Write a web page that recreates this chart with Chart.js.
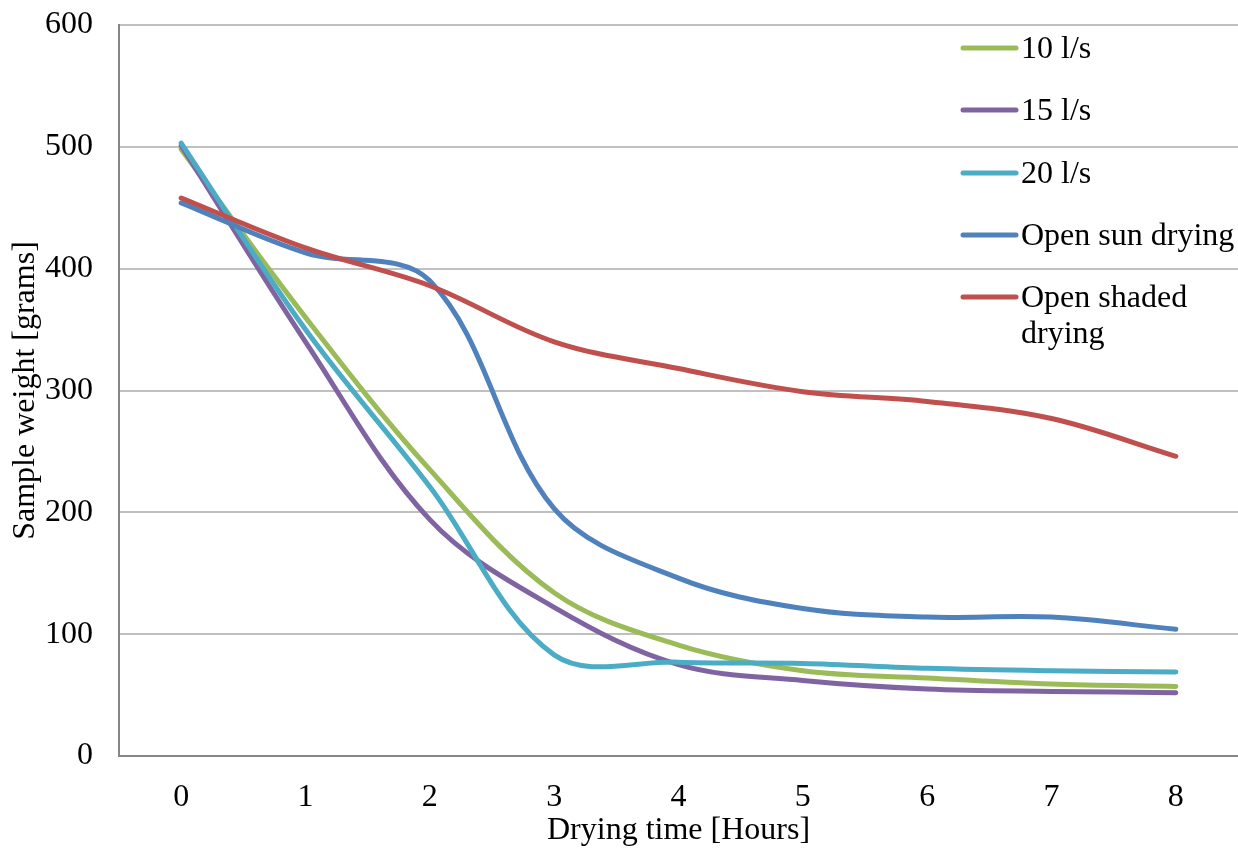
<!DOCTYPE html>
<html>
<head>
<meta charset="utf-8">
<script src="https://cdn.jsdelivr.net/npm/chart.js@4.4.1/dist/chart.umd.min.js"></script>
<style>
  html, body { margin: 0; padding: 0; background: #fff; }
  #wrap { width: 1238px; height: 851px; position: relative; }
</style>
</head>
<body>
<div id="wrap"><canvas id="dryChart"></canvas></div>
<script>
// values
const hours = ['0', '1', '2', '3', '4', '5', '6', '7', '8'];
const flow10 = [498, 360, 235, 134, 91, 70, 64, 59, 57];
const flow15 = [501, 340, 194, 122, 75, 62, 55, 53, 52];
const flow20 = [503, 350, 221, 83, 77, 76, 72, 70, 69];
const openSun = [454, 413, 390, 203, 146, 121, 114, 114, 104];
const openShaded = [458, 417, 386, 340, 318, 299, 291, 277, 246];

const seriesNames = ['10 l/s', '15 l/s', '20 l/s', 'Open sun drying', ['Open shaded', 'drying']];
const seriesColors = ['#9BBB59', '#8064A2', '#4BACC6', '#4F81BD', '#C0504D'];

const FONT = "'Liberation Serif', 'Times New Roman', serif";
const FONT_SIZE = 32;
Chart.defaults.font.family = FONT;
Chart.defaults.font.size = FONT_SIZE;
Chart.defaults.color = '#000';

function makeSet(i, values) {
    return {
        label: Array.isArray(seriesNames[i]) ? seriesNames[i].join(' ') : seriesNames[i],
        data: values,
        borderColor: seriesColors[i],
        backgroundColor: seriesColors[i],
        borderWidth: 5,
        borderCapStyle: 'round',
        borderJoinStyle: 'round',
        pointRadius: 0,
        tension: 0.35,
        fill: false,
        order: 5 - i
    };
}

// legend sits inside the plot, top right, like the original
const insideLegend = {
    id: 'insideLegend',
    afterDatasetsDraw(chart) {
        const ctx = chart.ctx;
        const rows = [48, 110, 173, 235, 297];
        ctx.save();
        ctx.font = FONT_SIZE + 'px ' + FONT;
        ctx.textBaseline = 'middle';
        ctx.fillStyle = '#000';
        seriesNames.forEach((name, i) => {
            const y = rows[i];
            ctx.strokeStyle = seriesColors[i];
            ctx.lineWidth = 5;
            ctx.lineCap = 'round';
            ctx.beginPath();
            ctx.moveTo(963, y);
            ctx.lineTo(1016, y);
            ctx.stroke();
            const lines = Array.isArray(name) ? name : [name];
            lines.forEach((t, k) => ctx.fillText(t, 1021, y + 2 + k * 36));
        });
        ctx.restore();
    }
};

const ctx = document.getElementById('dryChart').getContext('2d');
const dryChart = new Chart(ctx, {
    type: 'line',
    data: {
        labels: hours,
        datasets: [
            makeSet(0, flow10),
            makeSet(1, flow15),
            makeSet(2, flow20),
            makeSet(3, openSun),
            makeSet(4, openShaded)
        ]
    },
    options: {
        responsive: true,
        maintainAspectRatio: false,
        animation: false,
        layout: { padding: { top: 25, right: 0, left: 0, bottom: 0 } },
        plugins: {
            legend: { display: false },
            tooltip: { enabled: false }
        },
        scales: {
            x: {
                offset: true,
                grid: { display: false, drawTicks: false },
                border: { color: '#868686', width: 2 },
                ticks: { padding: 22, maxRotation: 0 },
                title: { display: true, text: 'Drying time [Hours]', padding: { top: 0, bottom: 1 } },
                afterFit(scale) { scale.height = 95; }
            },
            y: {
                min: 0,
                max: 600,
                ticks: { stepSize: 100, padding: 26 },
                grid: { color: '#c0c0c0', lineWidth: 2, drawTicks: false },
                border: { color: '#868686', width: 2 },
                title: { display: true, text: 'Sample weight [grams]', padding: { top: 6, bottom: 0 } },
                afterFit(scale) {
                    scale.width = 119;
                    scale.paddingTop = 0;
                    scale.paddingBottom = 0;
                }
            }
        }
    },
    plugins: [insideLegend]
});
</script>
</body>
</html>
